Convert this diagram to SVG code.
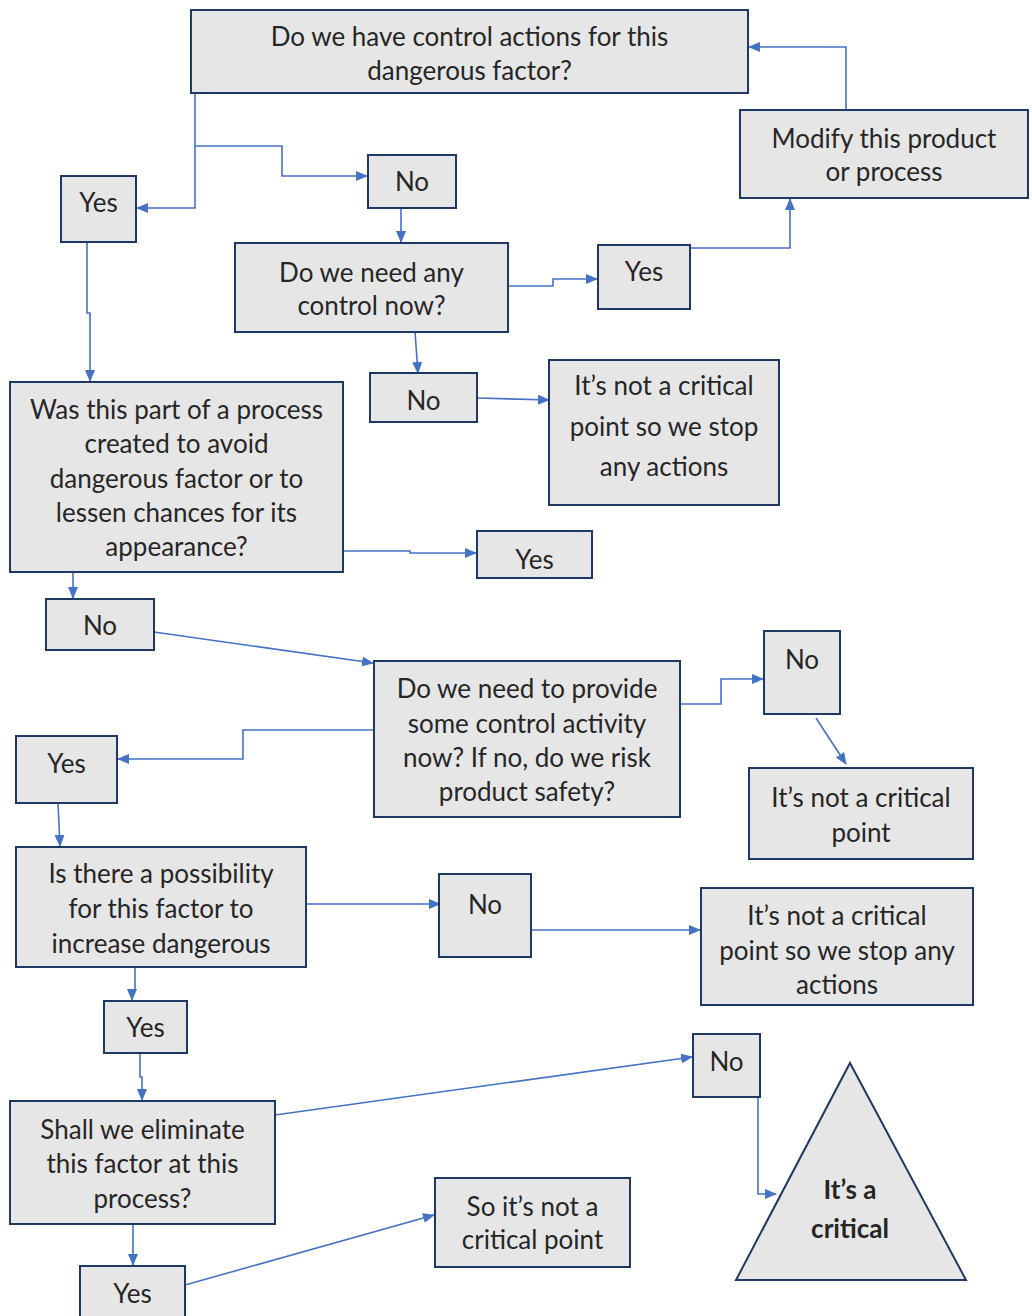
<svg xmlns="http://www.w3.org/2000/svg" width="1032" height="1316" viewBox="0 0 1032 1316">
<style>
.n{fill:#e7e6e6;stroke:#203864;stroke-width:2}
.t{font-family:Lato,"Liberation Sans",sans-serif;font-size:26px;fill:#262626;text-anchor:middle}
.b{font-weight:bold}
.c{fill:none;stroke:#4472c4;stroke-width:1.6}
</style>
<defs>
<marker id="a" markerUnits="userSpaceOnUse" markerWidth="12" markerHeight="10" refX="11" refY="5" orient="auto">
<path d="M0,0 L12,5 L0,10 Z" fill="#4472c4"/>
</marker>
</defs>
<rect width="1032" height="1316" fill="#fff"/>
<g id="connectors">
<path class="c" marker-end="url(#a)" d="M846,110 V47 H749"/>
<path class="c" marker-end="url(#a)" d="M195,93 V208 H137"/>
<path class="c" marker-end="url(#a)" d="M195,146 H282 V176 H367"/>
<path class="c" marker-end="url(#a)" d="M401,208 V242"/>
<path class="c" marker-end="url(#a)" d="M508,286 H553 V279 H597"/>
<path class="c" marker-end="url(#a)" d="M690,248 H790 V199"/>
<path class="c" marker-end="url(#a)" d="M415,332 L418,373"/>
<path class="c" marker-end="url(#a)" d="M477,398 L549,400"/>
<path class="c" marker-end="url(#a)" d="M87,242 V313 H90 V381"/>
<path class="c" marker-end="url(#a)" d="M343,551 H410 V553 H476"/>
<path class="c" marker-end="url(#a)" d="M73,572 V598"/>
<path class="c" marker-end="url(#a)" d="M154,632 L373,663"/>
<path class="c" marker-end="url(#a)" d="M680,704 H721 V679 H763"/>
<path class="c" marker-end="url(#a)" d="M816,718 L846,764"/>
<path class="c" marker-end="url(#a)" d="M374,730 H243 V759 H118"/>
<path class="c" marker-end="url(#a)" d="M58,803 L60,846"/>
<path class="c" marker-end="url(#a)" d="M306,904 H440"/>
<path class="c" marker-end="url(#a)" d="M531,930 H700"/>
<path class="c" marker-end="url(#a)" d="M135,967 V990 H132 V1000"/>
<path class="c" marker-end="url(#a)" d="M140,1053 V1077 H142 V1100"/>
<path class="c" marker-end="url(#a)" d="M275,1115 L692,1057"/>
<path class="c" marker-end="url(#a)" d="M758,1097 V1194 H776"/>
<path class="c" marker-end="url(#a)" d="M133,1224 V1265"/>
<path class="c" marker-end="url(#a)" d="M185,1285 L434,1215"/>
</g>
<g id="q1"><rect class="n" x="191" y="10" width="557" height="83"/><text class="t" x="469.5" y="46">Do we have control actions for this</text><text class="t" x="469.5" y="80">dangerous factor?</text></g>
<g id="modify"><rect class="n" x="740" y="110" width="288" height="88"/><text class="t" x="884" y="148">Modify this product</text><text class="t" x="884" y="181">or process</text></g>
<g id="yes1"><rect class="n" x="61" y="176" width="75" height="66"/><text class="t" x="98.5" y="212">Yes</text></g>
<g id="no1"><rect class="n" x="368" y="155" width="88" height="53"/><text class="t" x="412" y="191">No</text></g>
<g id="q2"><rect class="n" x="235" y="243" width="273" height="89"/><text class="t" x="371.5" y="282">Do we need any</text><text class="t" x="371.5" y="315">control now?</text></g>
<g id="yes2"><rect class="n" x="598" y="245" width="92" height="64"/><text class="t" x="644" y="281">Yes</text></g>
<g id="no2"><rect class="n" x="370" y="373" width="107" height="49"/><text class="t" x="423.5" y="410">No</text></g>
<g id="notcrit1"><rect class="n" x="549" y="360" width="230" height="145"/><text class="t" x="664" y="395">It’s not a critical</text><text class="t" x="664" y="436">point so we stop</text><text class="t" x="664" y="476">any actions</text></g>
<g id="q3"><rect class="n" x="10" y="382" width="333" height="190"/><text class="t" x="176.5" y="419">Was this part of a process</text><text class="t" x="176.5" y="453">created to avoid</text><text class="t" x="176.5" y="488">dangerous factor or to</text><text class="t" x="176.5" y="522">lessen chances for its</text><text class="t" x="176.5" y="556">appearance?</text></g>
<g id="yes3"><rect class="n" x="477" y="531" width="115" height="47"/><text class="t" x="534.5" y="569">Yes</text></g>
<g id="no3"><rect class="n" x="46" y="599" width="108" height="51"/><text class="t" x="100" y="635">No</text></g>
<g id="q4"><rect class="n" x="374" y="661" width="306" height="156"/><text class="t" x="527" y="698">Do we need to provide</text><text class="t" x="527" y="733">some control activity</text><text class="t" x="527" y="767">now? If no, do we risk</text><text class="t" x="527" y="801">product safety?</text></g>
<g id="no4"><rect class="n" x="764" y="631" width="76" height="83"/><text class="t" x="802" y="669">No</text></g>
<g id="notcrit2"><rect class="n" x="749" y="768" width="224" height="91"/><text class="t" x="861" y="807">It’s not a critical</text><text class="t" x="861" y="842">point</text></g>
<g id="yes4"><rect class="n" x="16" y="736" width="101" height="67"/><text class="t" x="66.5" y="773">Yes</text></g>
<g id="q5"><rect class="n" x="16" y="847" width="290" height="120"/><text class="t" x="161" y="883">Is there a possibility</text><text class="t" x="161" y="918">for this factor to</text><text class="t" x="161" y="953">increase dangerous</text></g>
<g id="no5"><rect class="n" x="439" y="874" width="92" height="83"/><text class="t" x="485" y="914">No</text></g>
<g id="notcrit3"><rect class="n" x="701" y="888" width="272" height="117"/><text class="t" x="837" y="925">It’s not a critical</text><text class="t" x="837" y="960">point so we stop any</text><text class="t" x="837" y="994">actions</text></g>
<g id="yes5"><rect class="n" x="104" y="1001" width="83" height="52"/><text class="t" x="145.5" y="1037">Yes</text></g>
<g id="q6"><rect class="n" x="10" y="1101" width="265" height="123"/><text class="t" x="142.5" y="1139">Shall we eliminate</text><text class="t" x="142.5" y="1173">this factor at this</text><text class="t" x="142.5" y="1208">process?</text></g>
<g id="no6"><rect class="n" x="693" y="1034" width="67" height="63"/><text class="t" x="726.5" y="1071">No</text></g>
<g id="critical"><polygon class="n" points="850,1063 966,1280 736,1280"/><text class="t b" x="850" y="1199">It’s a</text><text class="t b" x="850" y="1238">critical</text></g>
<g id="yes6"><rect class="n" x="80" y="1266" width="105" height="52"/><text class="t" x="132.5" y="1303">Yes</text></g>
<g id="notcrit4"><rect class="n" x="435" y="1178" width="195" height="89"/><text class="t" x="532.5" y="1216">So it’s not a</text><text class="t" x="532.5" y="1249">critical point</text></g>
</svg>
